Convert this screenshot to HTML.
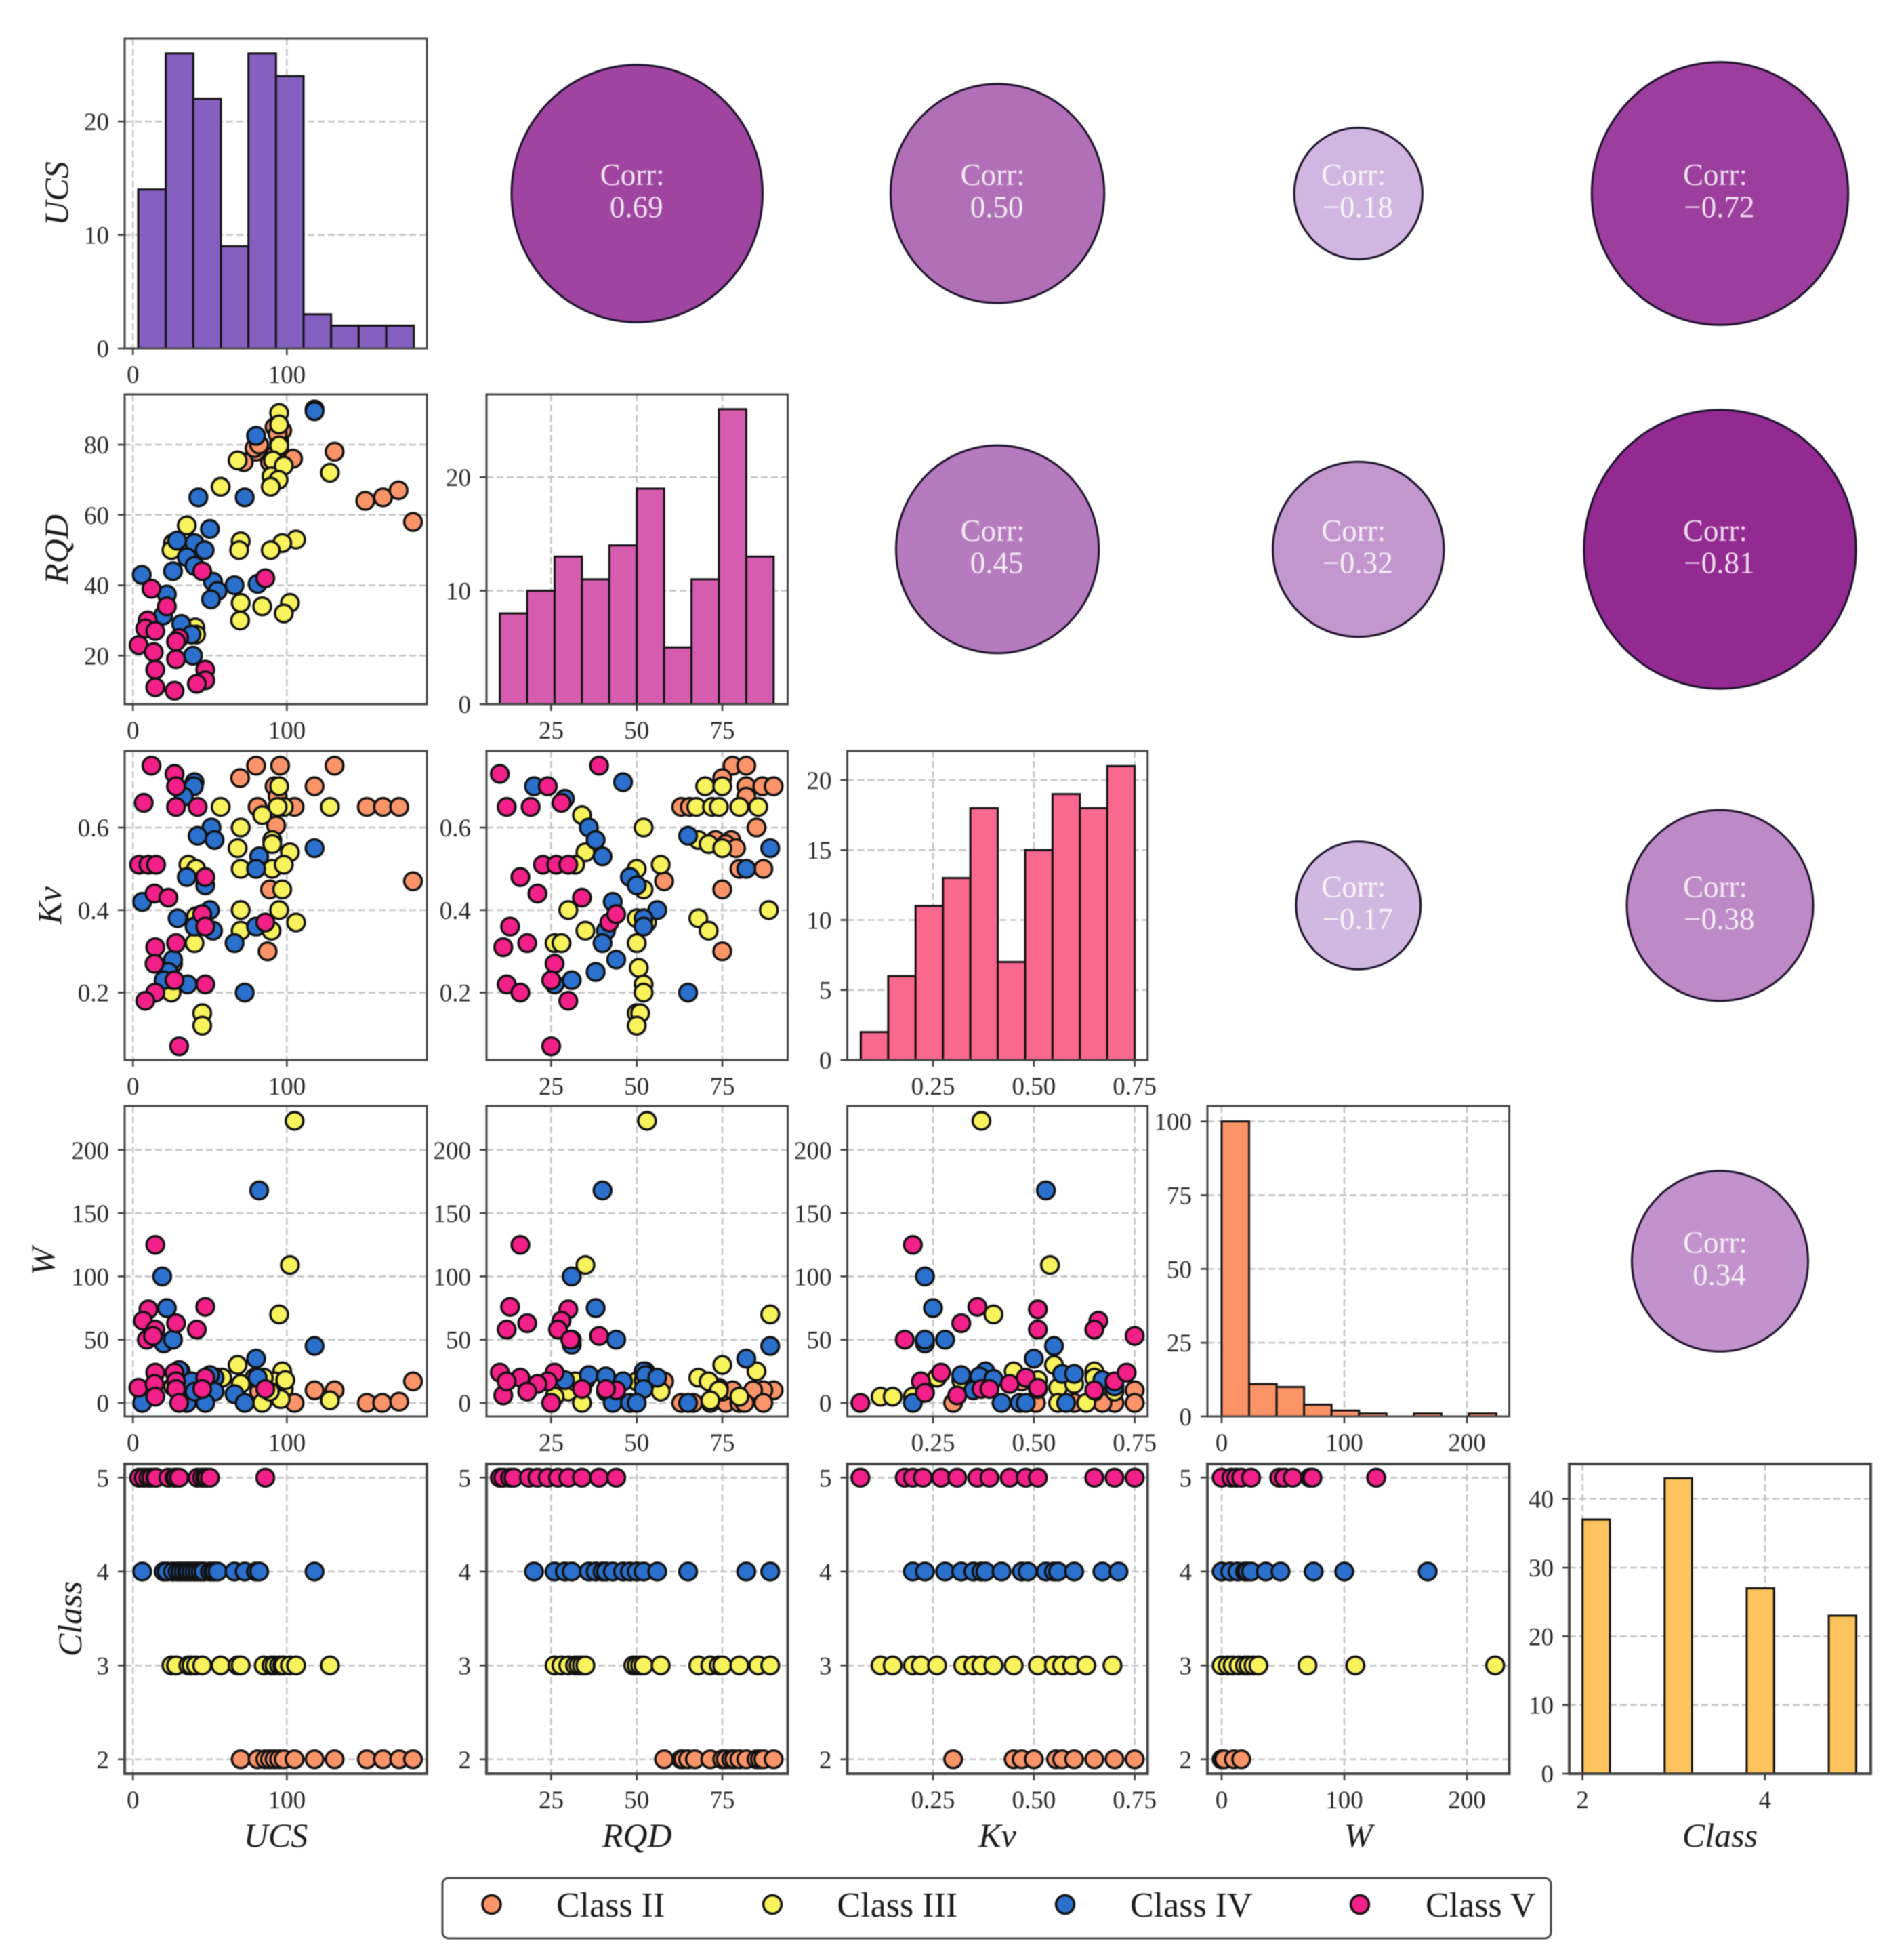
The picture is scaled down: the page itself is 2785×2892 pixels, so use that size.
<!DOCTYPE html>
<html lang="en">
<head>
<meta charset="utf-8">
<title>Scatter matrix of UCS, RQD, Kv, W and Class</title>
<style>
html,body{margin:0;padding:0;background:#fff;}
#chart{display:block;width:2785px;height:2892px;filter:blur(0.7px);font-family:"Liberation Serif",serif;}
</style>
</head>
<body>
<svg id="chart" xmlns="http://www.w3.org/2000/svg" width="2785" height="2892" viewBox="0 0 2785 2892"></svg>
<script>
/* ---------- categories and labels ---------- */
const variableNames = ['UCS','RQD','Kv','W','Class'];
const classNames = ['Class II','Class III','Class IV','Class V'];

/* ---------- tick labels ---------- */
const xTicksUcs = [0,100];
const xTicksRqd = [25,50,75];
const xTicksKv = [0.25,0.5,0.75];
const xTicksW = [0,100,200];
const xTicksClass = [2,4];
const yTicksRqd = [20,40,60,80];
const yTicksKv = [0.2,0.4,0.6];
const yTicksW = [0,50,100,150,200];
const yTicksClass = [2,3,4,5];
const histTicksUcs = [0,10,20];
const histTicksRqd = [0,10,20];
const histTicksKv = [0,5,10,15,20];
const histTicksW = [0,25,50,75,100];
const histTicksClass = [0,10,20,30,40];

/* ---------- histogram values ---------- */
const histCountsUcs = [14,26,22,9,26,24,3,2,2,2];
const histCountsRqd = [8,10,13,11,14,19,5,11,26,13];
const histCountsKv = [2,6,11,13,18,7,15,19,18,21];
const histCountsW = [100,11,10,4,2,1,0,1,0,1];
const histCountsClass = [37,0,0,43,0,0,27,0,0,23];
const histRangeUcs = [3.4,182.5];
const histRangeRqd = [10,90];
const histRangeKv = [0.071,0.75];
const histRangeW = [0,224];
const histRangeClass = [2,5];

/* ---------- correlation values ---------- */
const corrUcs = [0.69,0.50,-0.18,-0.72];
const corrRqd = [0.45,-0.32,-0.81];
const corrKv = [-0.17,-0.38];
const corrW = [0.34];

/* ---------- scatter values: UCS vs RQD ---------- */
const ucsRqdII = [[131,78],[151,64],[162.5,65],[172.6,67],[182,58],[104,76],[80,78],[79,79],[89,75],[92,85],[95,81],[97,84],[95,79],[72,75],[82,80],[94,83],[92,77]];
const ucsRqdIII = [[68,75.5],[57,68],[35,57],[128,72],[95,89],[95,85.7],[95,79.7],[91,75.5],[90,71],[98,74],[94.6,70],[89.5,68],[106,53],[97,52],[89.5,50],[70,52.5],[69,50],[26,52],[25,50],[70,35],[69.6,30],[84,34],[102,35],[98,32],[40.5,28],[41,26]];
const ucsRqdIV = [[118,90],[118,89.5],[80,82.5],[42.5,65],[72.6,65],[50,56],[28.7,52.7],[40,52],[46.6,50],[35,48],[40,45.5],[26,44],[5.7,43],[52,41],[66,40],[81,40.4],[55,38.4],[50.7,36],[22,37.4],[19.6,31.4],[31.4,29],[38,26],[39,20]];
const ucsRqdV = [[12,39],[45,44],[86,42],[22,34],[9.5,30],[8,27.7],[14.5,27],[30,25],[28,24],[3.7,23],[13.5,21],[28,19],[14.5,16],[47,16],[47,13],[41.5,12],[14.5,11],[27,10]];

/* ---------- scatter values: UCS vs Kv ---------- */
const ucsKvII = [[131,0.75],[95.6,0.75],[80,0.75],[69.6,0.72],[118,0.70],[92,0.70],[152,0.65],[162.5,0.65],[173,0.65],[182,0.47],[105,0.65],[81,0.65],[93,0.605],[94,0.675],[89,0.45],[87.5,0.30]];
const ucsKvIII = [[57,0.65],[128,0.65],[95,0.70],[98,0.65],[94,0.65],[84,0.63],[70,0.60],[68,0.55],[90.5,0.57],[90.5,0.56],[102,0.54],[70,0.50],[90.5,0.50],[98,0.51],[97,0.45],[36,0.51],[41,0.50],[70,0.40],[95,0.40],[106,0.37],[70,0.35],[90,0.35],[40,0.32],[25,0.20],[45,0.15],[45,0.12],[41,0.385],[26,0.27],[26,0.23]];
const ucsKvIV = [[40,0.71],[39.5,0.70],[33,0.675],[51,0.60],[42,0.58],[53,0.57],[118,0.55],[82,0.53],[80,0.50],[35,0.48],[47,0.46],[50,0.40],[29,0.38],[40,0.36],[52,0.35],[80,0.36],[66,0.32],[26,0.28],[23,0.25],[20,0.23],[35.5,0.22],[72.6,0.20],[6,0.42]];
const ucsKvV = [[12,0.75],[27,0.73],[28,0.70],[7,0.66],[28,0.65],[42,0.65],[4,0.51],[10,0.51],[15,0.51],[47,0.48],[14,0.44],[23,0.43],[45,0.39],[86,0.37],[47,0.36],[28,0.32],[14.5,0.31],[14,0.27],[27,0.23],[47,0.22],[14.5,0.20],[8,0.18],[30,0.07]];

/* ---------- scatter values: RQD vs Kv ---------- */
const rqdKvII = [[78,0.75],[82,0.75],[75,0.72],[82,0.70],[86.7,0.70],[90,0.70],[82,0.675],[63,0.65],[65.5,0.65],[85,0.60],[73,0.57],[77.6,0.57],[76,0.56],[79,0.55],[80,0.50],[87,0.50],[58,0.47],[75,0.45],[75,0.30],[80,0.65]];
const rqdKvIII = [[70,0.70],[75,0.70],[67.4,0.65],[72,0.65],[74,0.65],[80,0.65],[85.5,0.65],[34,0.63],[52,0.60],[68,0.57],[71,0.56],[75,0.55],[35,0.54],[32,0.51],[57,0.51],[50,0.50],[52,0.45],[30,0.40],[88.6,0.40],[50,0.38],[68,0.38],[71,0.35],[35,0.35],[53,0.37],[26,0.32],[28,0.32],[50,0.32],[50.6,0.26],[52,0.22],[52,0.20],[50,0.15],[51,0.15],[50,0.12]];
const rqdKvIV = [[20,0.70],[29,0.67],[46,0.71],[36,0.60],[38,0.57],[40,0.53],[65,0.58],[89,0.55],[82,0.50],[48,0.48],[50,0.46],[43,0.42],[56,0.40],[52,0.38],[52,0.36],[41,0.35],[40,0.32],[44,0.28],[38,0.25],[31,0.23],[26,0.22],[65,0.20]];
const rqdKvV = [[10,0.73],[39,0.75],[24,0.70],[12,0.65],[19,0.65],[28,0.66],[22.6,0.51],[26.5,0.51],[30,0.51],[16,0.48],[21,0.44],[34,0.43],[42,0.37],[44,0.39],[13,0.36],[11,0.31],[18,0.32],[26,0.27],[25,0.23],[12,0.22],[16,0.20],[30,0.18],[25,0.07]];

/* ---------- scatter values: UCS vs W ---------- */
const ucsWII = [[182,17],[131,10],[118,10],[105,0],[152,0],[162,0],[173,1],[94,5],[82,9],[79,20]];
const ucsWIII = [[105,223],[102,109],[95,70],[68,30],[97,25],[70,15],[98,11],[128,2],[84,0],[30,25],[26,13],[31,5],[55,20],[58,20],[92,17],[99,18],[96,3],[41,5],[85,20],[89,9]];
const ucsWIV = [[82,168],[19,100],[22,75],[118,45],[20,47],[26,50],[80,35],[81,20],[31,25],[30,26],[38,17],[53,20],[50,22],[53,9],[66,7],[72.6,0],[6,0],[35,0],[47,0],[40,9]];
const ucsWV = [[14.5,125],[10,74],[6.5,65],[28,63],[14.5,58],[41.5,58],[47,76],[9,50],[13,53],[3.5,12],[14.5,24],[14,15],[14.5,5],[27,24],[28,17],[28,11],[30,0],[47,20],[45,11],[86,11]];

/* ---------- scatter values: RQD vs W ---------- */
const rqdWII = [[90,10],[87,10],[84,10],[58,17],[63,0],[66.5,0],[71.5,0],[76,0],[80,0],[81.5,0],[87,0],[75,9],[78,10],[80,5],[74,12]];
const rqdWIII = [[53,223],[35,109],[89,70],[75,30],[85,25],[68,20],[71,17],[74,10],[80,5],[71.5,2],[34,0],[57,9],[35,18],[30,9],[50,17],[52,18],[32,17],[52.5,25],[26,5]];
const rqdWIV = [[40,168],[31,100],[38,75],[31,46],[31,50],[44,50],[82,35],[89,45],[52,25],[52.5,22],[56,20],[52,11],[36,22],[41,21],[29,18],[46,17],[41,9],[65,0],[43,0],[48,0],[50,0],[25,0]];
const rqdWV = [[16,125],[13,76],[30,74],[28,65],[18,63],[27,58],[12,58],[39,53],[30.6,50],[10,24],[16,20],[26,24],[24,17],[21,15],[18,9],[11,6],[12,17],[25,0],[34,11],[44,10],[41,11]];

/* ---------- scatter values: Kv vs W ---------- */
const kvWII = [[0.75,10],[0.75,0],[0.70,0],[0.67,0],[0.60,0],[0.505,0],[0.30,0],[0.65,9],[0.695,15],[0.47,17]];
const kvWIII = [[0.37,223],[0.54,109],[0.40,70],[0.55,30],[0.45,25],[0.65,25],[0.65,20],[0.51,18],[0.12,5],[0.15,5],[0.20,5],[0.26,20],[0.32,18],[0.56,12],[0.60,15],[0.63,0],[0.56,0],[0.70,9],[0.51,11]];
const kvWIV = [[0.53,168],[0.23,100],[0.25,75],[0.55,45],[0.50,35],[0.23,47],[0.23,50],[0.28,50],[0.57,23],[0.60,23],[0.67,18],[0.38,25],[0.365,21],[0.40,19],[0.35,10],[0.70,13],[0.20,0],[0.42,0],[0.465,0],[0.48,0],[0.58,0],[0.32,22]];
const kvWV = [[0.20,125],[0.36,76],[0.32,63],[0.51,74],[0.51,58],[0.66,65],[0.65,58],[0.75,53],[0.18,50],[0.27,24],[0.22,17],[0.23,8],[0.31,6],[0.07,0],[0.37,11],[0.39,11],[0.44,15],[0.48,20],[0.51,12],[0.65,10],[0.70,17],[0.73,24]];

/* ---------- strip values (bottom row, one y per class) ---------- */
const classLevels = [2,3,4,5];
const stripUcsII = [70,81,86,89,92,95,98,105,118,131,152,162.5,173,182];
const stripUcsIII = [25,28,36,38,41,45,57,68,70,85,90,92,95,97,98,102,106,128];
const stripUcsIV = [6,20,22,26,29,31,33,35,36,38,40,42,44,46,50,52,53,55,66,72.6,80,82,118];
const stripUcsV = [4,7,10,12,14.5,15,23,27,28,30,42,45,47,48,50,86];
const stripRqdII = [58,63,63.6,65,67,71.5,75,76,77.6,78.5,80,82,85,86,87,90];
const stripRqdIII = [26,28,30,32,33,34,35,49,50,51,52,57,68,71.5,74,75,80,85.5,89];
const stripRqdIV = [20,26,29,31,36,38,40,41,43,46,48,50,52,56,65,82,89];
const stripRqdV = [10,11,13,14,18.5,21,24,27,30,34,39,44];
const stripKvII = [0.30,0.45,0.47,0.50,0.555,0.57,0.60,0.65,0.70,0.75];
const stripKvIII = [0.12,0.15,0.20,0.22,0.26,0.325,0.35,0.37,0.40,0.45,0.51,0.55,0.57,0.595,0.63,0.695];
const stripKvIV = [0.20,0.23,0.28,0.32,0.35,0.37,0.38,0.42,0.47,0.485,0.53,0.55,0.56,0.60,0.67,0.71];
const stripKvV = [0.07,0.18,0.20,0.225,0.27,0.31,0.36,0.39,0.44,0.48,0.51,0.65,0.70,0.75];
const stripWII = [0,2,10,16];
const stripWIII = [0,5,9,14,19,22,26,30,70,109,223];
const stripWIV = [0,7,13,19,21,24,36,48,75,100,168];
const stripWV = [0,8,12,16,24,47,51,58,72,74,126];

/* ---------- axis domains ---------- */
const xDomains = [[-5.4,191],[6.1,94.1],[0.0375,0.782],[-11.6,234.5],[1.854,5.16]];
const yDomains = [[0,27.3],[6.2,94.26],[0.0367,0.7857],[-10.7,234.7],[1.847,5.147]];
const histYDomains = [[0,27.3],[0,27.3],[0,22.08],[0,105.2],[0,45.1]];

/* ---------- frame layout ---------- */
const panelLefts = [184,718,1250.5,1782,2316];
const panelRights = [630,1162.5,1693.7,2227.5,2761];
const panelTops = [57,582,1108,1632,2160];
const panelBottoms = [514,1039,1564,2090,2617];
const yLabelBaselines = [100,100,90,80,120];
const classFills = ['#FB9468','#F8F25C','#2B70CC','#F22088'];
const histFills = ['#8560C0','#D65CB0','#FB688F','#FD9468','#FDC35C'];

const SVGNS = 'http://www.w3.org/2000/svg';
const root = document.getElementById('chart');
const INK = '#111';
const SPINE = '#444';

function mk(tag, attrs, parent){
  const el = document.createElementNS(SVGNS, tag);
  for (const k in attrs) el.setAttribute(k, attrs[k]);
  parent.appendChild(el);
  return el;
}
function linear(domain, a, b){
  return function(v){ return a + (v - domain[0]) * (b - a) / (domain[1] - domain[0]); };
}
function xScale(col){ return linear(xDomains[col], panelLefts[col], panelRights[col]); }
function yScale(row){ return linear(yDomains[row], panelBottoms[row], panelTops[row]); }
function histYScale(i){ return linear(histYDomains[i], panelBottoms[i], panelTops[i]); }
function fmtX(v){ return Number.isInteger(v) ? String(v) : v.toFixed(2); }
function fmtY(v){ return Number.isInteger(v) ? String(v) : v.toFixed(1); }
function slug(s){ return String(s).toLowerCase().replace(/[^a-z0-9]+/g,'-'); }

function drawAxes(g, row, col, xTicks, yTicks, fy){
  const L = panelLefts[col], R = panelRights[col], T = panelTops[row], B = panelBottoms[row];
  const fx = xScale(col);
  xTicks.forEach(function(t){
    const gl = mk('line',{x1:fx(t),x2:fx(t),y1:T,y2:B,stroke:'#c2c2c2','stroke-width':2.5,'stroke-dasharray':'10 5'},g);
    
    
    const tk = mk('line',{x1:fx(t),x2:fx(t),y1:B,y2:B+10,stroke:'#333','stroke-width':2.5},g);
    
    
    const lb = mk('text',{x:fx(t),y:B+51,'text-anchor':'middle','font-size':37,fill:'#262626'},g);
    lb.textContent = fmtX(t);
    
    
  });
  yTicks.forEach(function(t){
    const gl = mk('line',{x1:L,x2:R,y1:fy(t),y2:fy(t),stroke:'#c2c2c2','stroke-width':2.5,'stroke-dasharray':'10 5'},g);
    
    
    const tk = mk('line',{x1:L-10,x2:L,y1:fy(t),y2:fy(t),stroke:'#333','stroke-width':2.5},g);
    
    
    const lb = mk('text',{x:L-23,y:fy(t)+13,'text-anchor':'end','font-size':37,fill:'#262626'},g);
    lb.textContent = fmtY(t);
    
    
  });
}
function drawFrame(g, row, col){
  const fr = mk('rect',{x:panelLefts[col],y:panelTops[row],width:panelRights[col]-panelLefts[col],height:panelBottoms[row]-panelTops[row],fill:'none',stroke:SPINE,'stroke-width':row === 4 ? 4 : 3},g);
  
  
}
function drawPoint(g, cx, cy, cls){
  const c = mk('circle',{cx:cx,cy:cy,r:13,fill:classFills[cls],stroke:INK,'stroke-width':3.5},g);
  
  
}
function newPanel(row, col, kind){
  const g = mk('g',{},root);
  
  
  return g;
}
function drawHist(i, counts, range, xTicks, yTicks){
  const g = newPanel(i, i, 'histogram');
  const fx = xScale(i), fy = histYScale(i);
  drawAxes(g, i, i, xTicks, yTicks, fy);
  const w = (range[1]-range[0]) / counts.length;
  counts.forEach(function(v, k){
    const x0 = fx(range[0]+k*w), x1 = fx(range[0]+(k+1)*w);
    const b = mk('rect',{x:x0,y:fy(v),width:x1-x0,height:fy(0)-fy(v),fill:histFills[i],stroke:INK,'stroke-width':3},g);
    
    
  });
  drawFrame(g, i, i);
}
function drawScatter(row, col, xTicks, yTicks, series){
  const g = newPanel(row, col, 'scatter');
  const fx = xScale(col), fy = yScale(row);
  drawAxes(g, row, col, xTicks, yTicks, fy);
  drawFrame(g, row, col);
  series.forEach(function(pts, cls){
    pts.forEach(function(p){ drawPoint(g, fx(p[0]), fy(p[1]), cls); });
  });
}
function drawStrip(col, xTicks, series){
  const row = 4;
  const g = newPanel(row, col, 'strip');
  const fx = xScale(col), fy = yScale(row);
  drawAxes(g, row, col, xTicks, yTicksClass, fy);
  drawFrame(g, row, col);
  series.forEach(function(vals, cls){
    vals.forEach(function(v){ drawPoint(g, fx(v), fy(classLevels[cls]), cls); });
  });
}
function corrFill(r){
  const t = (Math.abs(r) - 0.17) / 0.64;
  const a = [209,184,225], b = [147,42,146];
  const m = a.map(function(v,i){ return Math.round(v + (b[i]-v)*t); });
  return 'rgb(' + m.join(',') + ')';
}
function drawCorr(row, col, r){
  const g = newPanel(row, col, 'correlation');
  const cx = (panelLefts[col]+panelRights[col])/2;
  const cy = (panelTops[row]+panelBottoms[row])/2;
  const e = mk('ellipse',{cx:cx,cy:cy,rx:223*Math.sqrt(Math.abs(r)),ry:228.5*Math.sqrt(Math.abs(r)),fill:corrFill(r),stroke:'#1a1028','stroke-width':3},g);
  
  
  const t1 = mk('text',{x:cx-7,y:cy-12.5,'text-anchor':'middle','font-size':45,fill:'#fff','fill-opacity':0.86},g);
  t1.textContent = 'Corr:';
  
  
  const t2 = mk('text',{x:cx-1,y:cy+35,'text-anchor':'middle','font-size':45,fill:'#fff','fill-opacity':0.86},g);
  t2.textContent = (r < 0 ? '\u2212' : '') + Math.abs(r).toFixed(2);
  
  
}

/* histograms on the diagonal */
drawHist(0, histCountsUcs, histRangeUcs, xTicksUcs, histTicksUcs);
drawHist(1, histCountsRqd, histRangeRqd, xTicksRqd, histTicksRqd);
drawHist(2, histCountsKv, histRangeKv, xTicksKv, histTicksKv);
drawHist(3, histCountsW, histRangeW, xTicksW, histTicksW);
drawHist(4, histCountsClass, histRangeClass, xTicksClass, histTicksClass);

/* scatter panels below the diagonal */
drawScatter(1, 0, xTicksUcs, yTicksRqd, [ucsRqdII, ucsRqdIII, ucsRqdIV, ucsRqdV]);
drawScatter(2, 0, xTicksUcs, yTicksKv, [ucsKvII, ucsKvIII, ucsKvIV, ucsKvV]);
drawScatter(2, 1, xTicksRqd, yTicksKv, [rqdKvII, rqdKvIII, rqdKvIV, rqdKvV]);
drawScatter(3, 0, xTicksUcs, yTicksW, [ucsWII, ucsWIII, ucsWIV, ucsWV]);
drawScatter(3, 1, xTicksRqd, yTicksW, [rqdWII, rqdWIII, rqdWIV, rqdWV]);
drawScatter(3, 2, xTicksKv, yTicksW, [kvWII, kvWIII, kvWIV, kvWV]);

/* class strips in the bottom row */
drawStrip(0, xTicksUcs, [stripUcsII, stripUcsIII, stripUcsIV, stripUcsV]);
drawStrip(1, xTicksRqd, [stripRqdII, stripRqdIII, stripRqdIV, stripRqdV]);
drawStrip(2, xTicksKv, [stripKvII, stripKvIII, stripKvIV, stripKvV]);
drawStrip(3, xTicksW, [stripWII, stripWIII, stripWIV, stripWV]);

/* correlation circles above the diagonal */
corrUcs.forEach(function(r, i){ drawCorr(0, i+1, r); });
corrRqd.forEach(function(r, i){ drawCorr(1, i+2, r); });
corrKv.forEach(function(r, i){ drawCorr(2, i+3, r); });
corrW.forEach(function(r, i){ drawCorr(3, i+4, r); });

/* axis titles */
variableNames.forEach(function(name, i){
  const cx = (panelLefts[i]+panelRights[i])/2;
  const t = mk('text',{x:cx,y:2725,'text-anchor':'middle','font-size':50,'font-style':'italic',fill:'#1a1a1a'},root);
  t.textContent = name;
  
  
  const cy = (panelTops[i]+panelBottoms[i])/2;
  const yb = yLabelBaselines[i];
  const v = mk('text',{x:yb,y:cy,'text-anchor':'middle','font-size':50,'font-style':'italic',fill:'#1a1a1a',transform:'rotate(-90 '+yb+' '+cy+')'},root);
  v.textContent = name;
  
  
});

/* legend */
const legend = mk('g',{},root);


const legendBox = mk('rect',{x:653,y:2771,width:1636,height:89,rx:9,ry:9,fill:'#fff',stroke:SPINE,'stroke-width':3},legend);


const legendMarkerX = [725.5,1140,1572,2007];
const legendTextX = [821,1235.5,1668,2104];
classNames.forEach(function(name, i){
  const m = mk('circle',{cx:legendMarkerX[i],cy:2810,r:13.5,fill:classFills[i],stroke:INK,'stroke-width':3.5},legend);
  
  
  const t = mk('text',{x:legendTextX[i],y:2828,'font-size':52,fill:'#1a1a1a'},legend);
  t.textContent = name;
  
  
});
</script>
</body>
</html>
